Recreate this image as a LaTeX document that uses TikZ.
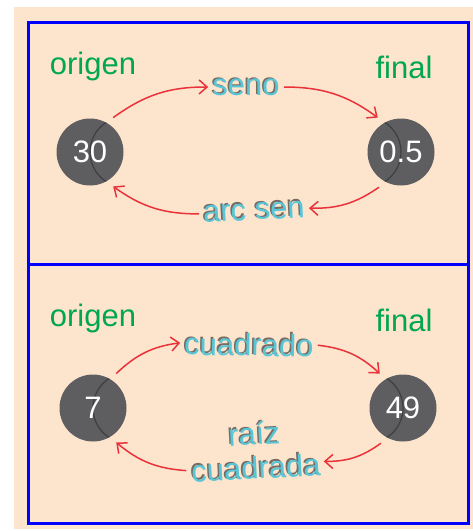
\documentclass[tikz,border=0pt]{standalone}
\usepackage{fontspec}
\setmainfont{Liberation Sans}
\usetikzlibrary{arrows.meta}

\definecolor{durazno}{RGB}{253,228,205}
\definecolor{azul}{RGB}{0,0,255}
\definecolor{verde}{RGB}{0,166,81}
\definecolor{rojo}{RGB}{234,50,58}
\definecolor{cian}{RGB}{88,198,214}
\definecolor{sombra}{RGB}{118,108,100}
\definecolor{gris}{RGB}{94,94,97}
\definecolor{grisosc}{RGB}{62,62,64}

% texto cian con sombra gris
\newcommand{\sombreado}[1]{\makebox[0pt][l]{\hspace{-1.6pt}\raisebox{1.6pt}{\color{sombra}#1}}{\color{cian}#1}}

\begin{document}
\begin{tikzpicture}[x=1pt,y=-1pt]
\tikzstyle{numero} = [circle, fill=gris, text=white, minimum size=67pt,
inner sep=0pt, outer sep=8pt, font=\fontsize{31}{32}\selectfont]
\tikzstyle{numizq} = [numero, path picture={\draw[grisosc, line width=1.2pt]
([xshift=35pt]path picture bounding box.center) circle (35pt);}]
\tikzstyle{numder} = [numero, path picture={\draw[grisosc, line width=1.2pt]
([xshift=-35pt]path picture bounding box.center) circle (35pt);}]
\tikzstyle{titulo} = [text=verde, anchor=base, inner sep=0pt, font=\fontsize{31}{32}\selectfont]
\tikzstyle{funcion} = [inner sep=4pt, align=center, font=\fontsize{31}{34}\selectfont]
\tikzstyle{flecha} = [draw=rojo, line width=1.5pt, -{Straight Barb[length=8pt,width=14pt]}, bend left=18]

\useasboundingbox (0,0) rectangle (473,531);
\fill[durazno] (14,7) rectangle (473,529);
\draw[azul, line width=3pt] (28,22) rectangle (468,264);
\draw[azul, line width=3pt] (28,264) rectangle (468,523);

% panel 1
\node [titulo] (orig1) at (93,74) {origen};
\node [titulo] (fin1) at (404,78) {final};
\node [numizq] (n30) at (90,152) {30};
\node [numder] (n05) at (401,152) {0.5};
\node [funcion] (seno) at (246,87) {\sombreado{seno}};
\node [funcion, rotate=3] (arcsen) at (254,211) {\sombreado{arc sen}};

\path [flecha] (n30.56) to (seno.west);
\path [flecha] (seno.east) to (n05.124);
\path [flecha] (n05.238) to (arcsen.east);
\path [flecha] (arcsen.west) to (n30.-56);

% panel 2
\node [titulo] (orig2) at (93,326) {origen};
\node [titulo] (fin2) at (404,331) {final};
\node [numizq] (n7) at (93,408) {7};
\node [numder] (n49) at (403,408) {49};
\node [funcion, rotate=-1] (cuadrado) at (249,344) {\sombreado{cuadrado}};
\node [funcion, rotate=3] (raiz) at (255,450) {\sombreado{raíz}\\\sombreado{cuadrada}};

\path [flecha] (n7.56) to (cuadrado.west);
\path [flecha] (cuadrado.east) to (n49.124);
\path [flecha] (n49.238) to ([yshift=-15pt]raiz.east);
\path [flecha] ([yshift=-17pt]raiz.west) to (n7.-56);

\end{tikzpicture}
\end{document}
